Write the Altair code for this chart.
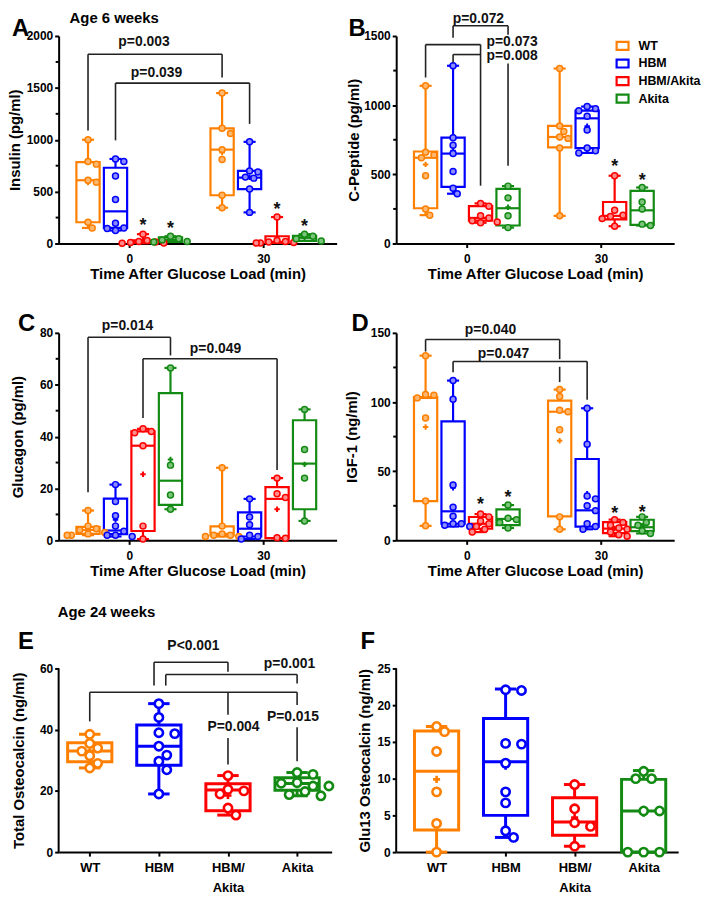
import altair as alt
import pandas as pd

FONT = "Liberation Sans, Arial, sans-serif"

GROUPS = ["WT", "HBM", "HBM/Akita", "Akita"]
COLORS = ["#FF8000", "#0000FF", "#FF0000", "#138A13"]
TINTS = ["#FFB870", "#8C8CFF", "#FF8C8C", "#7CC47C"]

# ---------------- Panel A : Insulin (pg/ml), age 6 weeks ----------------
A_PTS = {
    ("WT", 0): [1000, 790, 765, 610, 590, 205, 150],
    ("HBM", 0): [815, 790, 650, 425, 195, 150, 145, 125],
    ("HBM/Akita", 0): [90, 30, 20, 15, 10, 5, 3],
    ("Akita", 0): [70, 45, 35, 20, 15],
    ("WT", 30): [1450, 1110, 1060, 905, 810, 465, 345],
    ("HBM", 30): [980, 700, 690, 640, 630, 525, 300],
    ("HBM/Akita", 30): [255, 30, 20, 15, 10, 5, 5],
    ("Akita", 30): [90, 70, 45, 25],
}
# min, q1, median, q3, max, mean
A_BOX = {
    ("WT", 0): [150, 205, 610, 785, 1000, 587],
    ("HBM", 0): [125, 150, 310, 730, 815, 420],
    ("HBM/Akita", 0): [3, 5, 15, 30, 90, 25],
    ("Akita", 0): [15, 15, 35, 60, 70, 37],
    ("WT", 30): [345, 465, 905, 1110, 1450, 878],
    ("HBM", 30): [300, 525, 635, 700, 980, 638],
    ("HBM/Akita", 30): [5, 5, 15, 70, 255, 49],
    ("Akita", 30): [25, 25, 55, 75, 90, 57],
}
A_STARS = {("HBM/Akita", 0): 210, ("Akita", 0): 180, ("HBM/Akita", 30): 365, ("Akita", 30): 195}
A_BRACKETS = [(("WT", 0), ("WT", 30), 1824, 1090, 1600),
              (("HBM", 0), ("HBM", 30), 1546, 994, 1153)]
A_LEGS = []
A_PTEXT = [("p=0.003", 3.3, 1942, "center"), ("p=0.039", 6.1, 1640, "center")]

# ---------------- Panel B : C-Peptide (pg/ml) ----------------
B_PTS = {
    ("WT", 0): [1140, 660, 640, 620, 490, 250, 205],
    ("HBM", 0): [1285, 765, 710, 650, 520, 400, 360],
    ("HBM/Akita", 0): [290, 270, 200, 185, 165, 155, 150],
    ("Akita", 0): [415, 330, 200, 115],
    ("WT", 30): [1265, 850, 810, 770, 760, 690, 200],
    ("HBM", 30): [990, 975, 960, 920, 820, 690, 670, 655],
    ("HBM/Akita", 30): [490, 240, 205, 195, 180, 125],
    ("Akita", 30): [405, 300, 250, 140, 130],
}
B_BOX = {
    ("WT", 0): [205, 255, 620, 665, 1140, 572],
    ("HBM", 0): [360, 410, 650, 765, 1285, 670],
    ("HBM/Akita", 0): [150, 165, 185, 270, 290, 202],
    ("Akita", 0): [115, 130, 255, 395, 415, 262],
    ("WT", 30): [200, 695, 770, 850, 1265, 764],
    ("HBM", 30): [655, 690, 905, 960, 990, 847],
    ("HBM/Akita", 30): [125, 175, 200, 300, 490, 239],
    ("Akita", 30): [130, 135, 240, 380, 405, 245],
}
B_STARS = {("HBM/Akita", 30): 581, ("Akita", 30): 483}
B_BRACKETS = [(("HBM", 0), ("Akita", 0), 1574, 1488, 1510),
              (("WT", 0), ("HBM/Akita", 0), 1438, 1200, 418),
              (("HBM", 0), ("HBM/Akita", 0), 1366, 1309, 1366)]
B_LEGS = [(("Akita", 0), 1301, 562)]
B_PTEXT = [("p=0.072", 2.6, 1625, "center"), ("p=0.073", 4.4, 1460, "left"),
           ("p=0.008", 4.4, 1352, "left")]

# ---------------- Panel C : Glucagon (pg/ml) ----------------
C_PTS = {
    ("WT", 0): [11.5, 5.5, 4.5, 4, 3, 2.5, 2, 2],
    ("HBM", 0): [21.5, 15, 9.5, 5.5, 3.5, 2, 2, 1.5],
    ("HBM/Akita", 0): [43, 42, 41.5, 36.5, 5.5, 0.5],
    ("Akita", 0): [66.5, 29, 17.5, 12],
    ("WT", 30): [28, 5.5, 2.5, 2, 2, 1.5, 1.5],
    ("HBM", 30): [16, 9, 6, 2, 1.5, 0.5],
    ("HBM/Akita", 30): [24, 18, 16.5, 1, 0.8],
    ("Akita", 30): [50.5, 35, 24, 7.5],
}
C_BOX = {
    ("WT", 0): [2, 2.5, 4, 5.2, 11.5, 4.4],
    ("HBM", 0): [1.5, 2.4, 3.8, 16.1, 21.5, 7.9],
    ("HBM/Akita", 0): [0.5, 3.6, 36.5, 42, 43, 25.5],
    ("Akita", 0): [12, 13.7, 23, 56.8, 66.5, 31.2],
    ("WT", 30): [1.5, 1.9, 2.5, 5.4, 28, 5.4],
    ("HBM", 30): [0.5, 1.5, 4.5, 10.8, 16, 5.8],
    ("HBM/Akita", 30): [0.8, 0.9, 16, 20.5, 24, 12],
    ("Akita", 30): [7.5, 12, 29.6, 46.3, 50.5, 29.3],
}
C_STARS = {}
C_BRACKETS = [(("WT", 0), ("Akita", 0), 78.3, 18.6, 71.3),
              (("HBM/Akita", 0), ("HBM/Akita", 30), 70.0, 47.2, 27.1)]
C_LEGS = []
C_PTEXT = [("p=0.014", -0.4, 82.6, "center"), ("p=0.049", 19.3, 73.9, "center")]

# ---------------- Panel D : IGF-1 (ng/ml) ----------------
D_PTS = {
    ("WT", 0): [133.5, 105.5, 105, 103, 88.5, 28.5, 10.5],
    ("HBM", 0): [115.5, 102, 40, 24, 17.5, 12, 12, 11, 10],
    ("HBM/Akita", 0): [19, 17, 14, 12, 10, 8, 6],
    ("Akita", 0): [25.5, 16, 15, 13, 9],
    ("WT", 30): [109, 104, 94, 93, 80, 17, 8],
    ("HBM", 30): [95.5, 69.5, 32, 30, 25, 21.5, 12, 10, 8],
    ("HBM/Akita", 30): [15, 13, 11, 9, 8, 6, 4, 3],
    ("Akita", 30): [17, 13, 11, 7, 5],
}
D_BOX = {
    ("WT", 0): [10.5, 28.4, 103, 103.5, 133.5, 82],
    ("HBM", 0): [10, 12, 21, 86, 115.5, 38],
    ("HBM/Akita", 0): [6, 8.4, 12, 16.9, 19, 12.3],
    ("Akita", 0): [9, 11, 15.5, 22.4, 25.5, 15.7],
    ("WT", 30): [8, 17.3, 93, 101, 109, 72],
    ("HBM", 30): [8, 10, 21.7, 58.8, 95.5, 33.7],
    ("HBM/Akita", 30): [3, 5.3, 8.5, 13.2, 15, 8.6],
    ("Akita", 30): [5, 6.7, 9.5, 14.9, 17, 10.6],
}
D_STARS = {("HBM/Akita", 0): 28.2, ("Akita", 0): 33.7, ("HBM/Akita", 30): 21.7, ("Akita", 30): 22.9}
D_BRACKETS = [(("WT", 0), ("WT", 30), 145.2, 136.5, 131.0),
              (("HBM", 0), ("HBM", 30), 129.3, 121.6, 101.6)]
D_LEGS = [(("WT", 30), 125.5, 114.4)]
D_PTEXT = [("p=0.040", 5.3, 151.7, "center"), ("p=0.047", 8.2, 134.8, "center")]

# ---------------- Panel E : Total Osteocalcin (ng/ml), age 24 weeks ----------------
E_PTS = {
    "WT": [38.5, 35.5, 34, 33, 31.5, 29, 27.5],
    "HBM": [48.5, 44, 39, 38.7, 34.6, 31.7, 29.7, 26.9, 19],
    "HBM/Akita": [25, 20.5, 20, 19, 14.4, 12.1],
    "Akita": [26, 25.4, 22.7, 22.5, 21.6, 21.6, 19.8, 18.8, 18.4],
}
E_BOX = {
    "WT": [27.5, 29.5, 33, 35.7, 38.5, 32.7],
    "HBM": [19, 28.4, 34.6, 41.5, 48.5, 34.7],
    "HBM/Akita": [12.1, 13.5, 20.3, 22.3, 25, 18.5],
    "Akita": [18.4, 20.2, 22.4, 24.3, 26, 22.0],
}
E_BRACKETS = [(0.93, 2, 62.0, 54.4, 58.9), (1.1, 3, 58.0, 54.4, 55.1), (0, 3, 52.2, 42.7, 48.1)]
E_LEGS = [(2, 52.2, 44.9), (2, 37.3, 28.6), (3, 40.8, 29.7)]
E_PTEXT = [("P<0.001", 1.5, 67.3, "center"), ("p=0.001", 2.89, 61.4, "center"),
           ("P=0.004", 2.08, 40.8, "center"), ("P=0.015", 2.94, 44.0, "center")]

# ---------------- Panel F : Glu13 Osteocalcin (ng/ml) ----------------
F_PTS = {
    "WT": [17.1, 16.4, 13.7, 8.2, 3.9, 0],
    "HBM": [22.1, 22.0, 14.8, 14.7, 12.1, 8.2, 6.7, 2.9, 2.0],
    "HBM/Akita": [9.2, 5.9, 4.0, 3.5, 0.8],
    "Akita": [11.0, 10.0, 10.0, 5.6, 5.6, 0, 0, 0],
}
F_BOX = {
    "WT": [0, 3, 11, 16.5, 17.1, 9.9],
    "HBM": [2.0, 5.0, 12.3, 18.2, 22.2, 11.7],
    "HBM/Akita": [0.8, 2.3, 4.1, 7.4, 9.2, 4.7],
    "Akita": [0, 0, 5.6, 9.9, 11.1, 5.3],
}

# ---------------- layout helpers ----------------
STEP = 6.15
OFF = {"WT": -1.5, "HBM": -0.5, "HBM/Akita": 0.5, "Akita": 1.5}
XD_T = [-15.8, 46.4]
W_T, H_T = 280, 209
ONE = pd.DataFrame({"a": [0]})
CSCALE = alt.Scale(domain=GROUPS, range=COLORS)
TSCALE = alt.Scale(domain=GROUPS, range=TINTS)


def xt(k):
    if isinstance(k, tuple):
        g, t = k
        return t + OFF[g] * STEP
    return k


def xc_cat(k):
    if isinstance(k, str):
        return GROUPS.index(k)
    return k


def swarm(vals, ppy, d, step):
    placed, out = [], []
    for v in vals:
        y = v * ppy
        x = 0
        for k in [0, 1, -1, 2, -2, 3, -3, 4, -4, 5, -5]:
            x = k * step
            if all((x - px) ** 2 + (y - py) ** 2 >= (d * 0.92) ** 2 for px, py in placed):
                break
        placed.append((x, y))
        out.append(x)
    return out


def gname(k):
    return k[0] if isinstance(k, tuple) else k


def panel(pts, box, xpos, xdom, w, h, ydom, yvals, yminor, ytitle, title_x,
          xaxis, brackets, legs, ptexts, stars, style, yline_top=None):
    xs = alt.Scale(domain=xdom, nice=False, zero=False)
    ys = alt.Scale(domain=ydom, nice=False, zero=True)
    ppx = w / (xdom[1] - xdom[0])
    ppy = h / (ydom[1] - ydom[0])
    brow, prow = [], []
    for key, st in box.items():
        c = xpos(key)
        mn, q1, md, q3, mx, mean = st
        brow.append(dict(g=gname(key), xc=c, xl=c - style["bh"], xr=c + style["bh"],
                         cl=c - style["ch"], cr=c + style["ch"], mn=mn, q1=q1, md=md,
                         q3=q3, mx=mx, mean=mean))
        vals = pts[key]
        offs = swarm(vals, ppy, style["d"], style["step"])
        for v, o in zip(vals, offs):
            prow.append(dict(g=gname(key), x=c + o / ppx, v=v))
    bdf = pd.DataFrame(brow)
    pdf = pd.DataFrame(prow)
    sw = style["sw"]
    ty = h / 2 if yline_top is None else h - (yline_top * ppy) / 2
    yaxis = alt.Axis(values=yvals, title=ytitle, titleX=title_x, titleY=ty,
                     titleAngle=-90, titleBaseline="bottom", titleAlign="center",
                     format="d", labelPadding=2, tickSize=4, domain=(yline_top is None))

    def X(f):
        return alt.X(f, scale=xs, axis=xaxis)

    def Y(f):
        return alt.Y(f, scale=ys, axis=yaxis)

    base = alt.Chart(bdf)
    col = alt.Color("g:N", scale=CSCALE, legend=None)
    layers = []
    layers.append(base.mark_rule(strokeWidth=sw).encode(
        x=X("xc:Q"), y=Y("mn:Q"), y2="mx:Q", color=col))
    layers.append(base.mark_rect(fill="white", strokeWidth=sw).encode(
        x=X("xl:Q"), x2="xr:Q", y=Y("q1:Q"), y2="q3:Q",
        stroke=alt.Stroke("g:N", scale=CSCALE, legend=None)))
    layers.append(base.mark_rule(strokeWidth=sw).encode(
        x=X("xl:Q"), x2="xr:Q", y=Y("md:Q"), color=col))
    for f in ["mn", "mx"]:
        layers.append(base.mark_rule(strokeWidth=sw).encode(
            x=X("cl:Q"), x2="cr:Q", y=Y(f + ":Q"), color=col))
    layers.append(base.mark_point(shape="M -1 0 L 1 0 M 0 -1 L 0 1", filled=False,
                                  size=style["plus"], strokeWidth=style["plus_w"], opacity=1).encode(
        x=X("xc:Q"), y=Y("mean:Q"), color=col))
    if style["white"]:
        layers.append(alt.Chart(pdf).mark_point(shape="circle", filled=True, fill="white",
                                                size=style["size"], strokeWidth=style["dw"], opacity=1).encode(
            x=X("x:Q"), y=Y("v:Q"),
            stroke=alt.Stroke("g:N", scale=CSCALE, legend=None)))
    else:
        layers.append(alt.Chart(pdf).mark_point(shape="circle", filled=True,
                                                size=style["size"], strokeWidth=style["dw"], opacity=1).encode(
            x=X("x:Q"), y=Y("v:Q"),
            fill=alt.Fill("g:N", scale=TSCALE, legend=None),
            stroke=alt.Stroke("g:N", scale=CSCALE, legend=None)))
    if yminor:
        mdf = pd.DataFrame({"m": yminor})
        layers.append(alt.Chart(mdf).mark_rule(color="black", strokeWidth=2).encode(
            x=alt.value(-3), x2=alt.value(0), y=Y("m:Q")))
    if yline_top is not None:
        ldf = pd.DataFrame({"y0": [0], "y1": [yline_top]})
        layers.append(alt.Chart(ldf).mark_rule(color="black", strokeWidth=2).encode(
            x=alt.value(0), y=Y("y0:Q"), y2="y1:Q"))
    seg = []
    for a, b, yb, yl, yr in brackets:
        xa, xb = xpos(a), xpos(b)
        seg.append(dict(x=xa, x2=xb, y=yb, y2=yb))
        seg.append(dict(x=xa, x2=xa, y=yb, y2=yl))
        seg.append(dict(x=xb, x2=xb, y=yb, y2=yr))
    for k, y1, y2 in legs:
        xk = xpos(k)
        seg.append(dict(x=xk, x2=xk, y=y1, y2=y2))
    if seg:
        sdf = pd.DataFrame(seg)
        layers.append(alt.Chart(sdf).mark_rule(color="#222222", strokeWidth=1.6).encode(
            x=X("x:Q"), x2="x2:Q", y=Y("y:Q"), y2="y2:Q"))
    for al in ["center", "left"]:
        rows = [dict(t=t, x=x, y=y) for t, x, y, a in ptexts if a == al]
        if rows:
            layers.append(alt.Chart(pd.DataFrame(rows)).mark_text(
                align=al, baseline="middle", font=FONT, fontSize=style["pfs"], fontWeight="bold",
                color="#111111").encode(x=X("x:Q"), y=Y("y:Q"), text="t:N"))
    if stars:
        sr = pd.DataFrame([dict(x=xpos(k), y=v) for k, v in stars.items()])
        layers.append(alt.Chart(sr).mark_text(text="*", baseline="middle", dy=4, font=FONT,
                                              fontSize=18, fontWeight="bold", color="#111111").encode(
            x=X("x:Q"), y=Y("y:Q")))
    return layers


def label(txt, px, py, size, align="left"):
    return alt.Chart(ONE).mark_text(font=FONT, fontSize=size, fontWeight="bold", align=align,
                                    baseline="middle", color="black").encode(
        x=alt.value(px), y=alt.value(py), text=alt.value(txt))


STYLE_T = dict(bh=2.6, ch=1.35, sw=2.2, d=7.5, step=4.2, size=36, dw=1.5, plus=30, plus_w=2,
               white=False, pfs=14)
STYLE_C = dict(bh=0.32, ch=0.155, sw=3, d=10, step=8, size=70, dw=2.6, plus=50, plus_w=2.6,
               white=True, pfs=14)

XAX_T = alt.Axis(values=[0, 30], title="Time After Glucose Load (min)", labelPadding=6,
                 tickSize=4, titleY=23, titleBaseline="top", format="d")
XAX_C = alt.Axis(values=[0, 1, 2, 3], title=None, labelPadding=6, tickSize=4, labelFontSize=13,
                 labelExpr="datum.value == 0 ? 'WT' : datum.value == 1 ? 'HBM' : datum.value == 2 ? ['HBM/', 'Akita'] : 'Akita'",
                 labelLineHeight=20)

# Panel A
la = panel(A_PTS, A_BOX, xt, XD_T, W_T, H_T, [0, 2000], [0, 500, 1000, 1500, 2000],
           [250, 750, 1250, 1750], "Insulin (pg/ml)", -36, XAX_T, A_BRACKETS, A_LEGS,
           A_PTEXT, A_STARS, STYLE_T)
la += [label("A", -47, -7, 24), label("Age 6 weeks", 11, -18, 15)]
chartA = alt.layer(*la).properties(width=W_T, height=H_T)

# Panel B
lb = panel(B_PTS, B_BOX, xt, XD_T, W_T, H_T, [0, 1500], [0, 500, 1000, 1500],
           [250, 750, 1250], "C-Peptide (pg/ml)", -35, XAX_T, B_BRACKETS, B_LEGS,
           B_PTEXT, B_STARS, STYLE_T)
lb += [label("B", -48, -7, 24)]
for i, (g, c) in enumerate(zip(GROUPS, COLORS)):
    yy = 10 + i * 17.7
    lb.append(alt.Chart(ONE).mark_rect(fill="white", stroke=c, strokeWidth=2.2).encode(
        x=alt.value(222), x2=alt.value(234), y=alt.value(yy - 4), y2=alt.value(yy + 4)))
    lb.append(label(g, 244, yy, 12.5))
chartB = alt.layer(*lb).properties(width=W_T, height=H_T)

# Panel C
lc = panel(C_PTS, C_BOX, xt, XD_T, W_T, H_T, [0, 80], [0, 20, 40, 60, 80],
           [10, 30, 50, 70], "Glucagon (pg/ml)", -33, XAX_T, C_BRACKETS, C_LEGS,
           C_PTEXT, C_STARS, STYLE_T)
lc += [label("C", -41, -9, 24)]
chartC = alt.layer(*lc).properties(width=W_T, height=H_T)

# Panel D
ld = panel(D_PTS, D_BOX, xt, XD_T, W_T, H_T, [0, 150], [0, 50, 100, 150],
           [25, 75, 125], "IGF-1 (ng/ml)", -37, XAX_T, D_BRACKETS, D_LEGS,
           D_PTEXT, D_STARS, STYLE_T)
ld += [label("D", -45, -9, 24)]
chartD = alt.layer(*ld).properties(width=W_T, height=H_T)

# Panel E (extra headroom above 60 so the row sits lower)
W_E, H_E = 275, 224
le = panel(E_PTS, E_BOX, xc_cat, [-0.45, 3.5], W_E, H_E, [0, 72.65], [0, 20, 40, 60], [],
           "Total Osteocalcin (ng/ml)", -32, XAX_C, E_BRACKETS, E_LEGS, E_PTEXT, {}, STYLE_C,
           yline_top=60)
le += [label("E", -41, 12, 24), label("Age 24 weeks", -1, -18, 15)]
chartE = alt.layer(*le).properties(width=W_E, height=H_E)

# Panel F
W_F, H_F = 284, 224
lf = panel(F_PTS, F_BOX, xc_cat, [-0.585, 3.5], W_F, H_F, [0, 30.27], [0, 5, 10, 15, 20, 25], [],
           "Glu13 Osteocalcin (ng/ml)", -24, XAX_C, [], [], [], {}, STYLE_C, yline_top=25)
lf += [label("F", -36, 12, 24)]
chartF = alt.layer(*lf).properties(width=W_F, height=H_F)

chart = alt.concat(chartA, chartB, chartC, chartD, chartE, chartF, columns=2,
                   spacing={"row": 90, "column": 60}, bounds="flush").properties(padding=0)

chart = chart.configure_view(stroke=None).configure_axis(
    grid=False, domainColor="black", domainWidth=2, tickColor="black", tickWidth=2,
    labelFont=FONT, labelFontSize=12, labelFontWeight="bold", labelColor="black",
    titleFont=FONT, titleFontSize=15, titleFontWeight="bold", titleColor="black")

chart.save("out.html", embed_options={"renderer": "svg", "actions": False})
